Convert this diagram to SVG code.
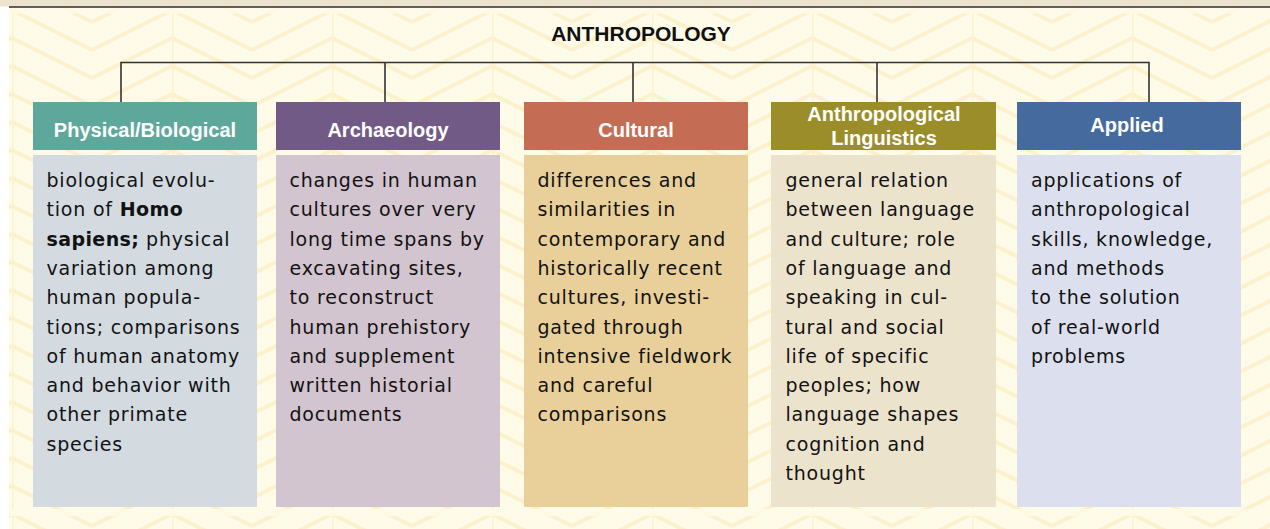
<svg xmlns="http://www.w3.org/2000/svg" width="1270" height="529" viewBox="0 0 1270 529">
  <defs>
    <!-- faint herringbone backdrop -->
    <pattern id="weave" x="12" y="10" width="160" height="28" patternUnits="userSpaceOnUse">
      <rect width="160" height="28" fill="#fffbe9"/>
      <g stroke="#fdf1cd" stroke-width="4" fill="none">
        <line x1="0" y1="-56" x2="80" y2="-16"/>
        <line x1="0" y1="-28" x2="80" y2="12"/>
        <line x1="0" y1="0" x2="80" y2="40"/>
        <line x1="0" y1="28" x2="80" y2="68"/>
        <line x1="80" y1="-16" x2="160" y2="-56"/>
        <line x1="80" y1="12" x2="160" y2="-28"/>
        <line x1="80" y1="40" x2="160" y2="0"/>
        <line x1="80" y1="68" x2="160" y2="28"/>
        <line x1="0" y1="-30" x2="0" y2="60" stroke-width="3"/>
      </g>
    </pattern>
    <style>
      .title { font-family: "Liberation Sans", Arial, sans-serif; font-weight: bold; font-size: 21px; fill: #111; text-anchor: middle; }
      .head { font-family: "Liberation Sans", Arial, sans-serif; font-weight: bold; font-size: 20px; fill: #ffffff; text-anchor: middle; }
      .body { font-family: "DejaVu Sans", Verdana, sans-serif; font-size: 19px; letter-spacing: 0.8px; fill: #121212; }
      .body .b { font-weight: bold; letter-spacing: 0.4px; }
      .wire { stroke: #333333; stroke-width: 1.6; fill: none; }
    </style>
  </defs>

  <!-- page -->
  <rect x="0" y="0" width="1270" height="529" fill="#ffffff"/>
  <rect x="9" y="7" width="1261" height="522" fill="url(#weave)"/>
  <rect x="9" y="8" width="1261" height="6" fill="#fffbe9" opacity="0.75"/>
  <rect x="9" y="509" width="1261" height="7" fill="#fffbe9" opacity="0.8"/>
  <rect x="0" y="0" width="1270" height="6.5" fill="#ece4cf"/>
  <line x1="9" y1="7" x2="1270" y2="7" stroke="#2b2b2b" stroke-width="1.6"/>

  <!-- title -->
  <g id="anthropology">
    <text class="title" x="641" y="41">ANTHROPOLOGY</text>
  </g>

  <!-- tree connectors -->
  <g id="connectors" class="wire">
    <polyline points="121,102 121,62.5 1149,62.5 1149,102"/>
    <line x1="385" y1="62.5" x2="385" y2="102"/>
    <line x1="633" y1="62.5" x2="633" y2="102"/>
    <line x1="877" y1="62.5" x2="877" y2="102"/>
  </g>

  <!-- branches -->
  <g id="physical">
    <rect x="33" y="102" width="224" height="48" fill="#5ea89b"/>
    <text class="head" x="145" y="137">Physical/Biological</text>
    <rect x="33" y="155" width="224" height="352" fill="#d3dbe1"/>
    <text class="body" x="46.5">
      <tspan x="46.5" y="187">biological evolu-</tspan>
      <tspan x="46.5" y="216.3">tion of <tspan class="b">Homo</tspan></tspan>
      <tspan x="46.5" y="245.6"><tspan class="b">sapiens;</tspan> physical</tspan>
      <tspan x="46.5" y="274.9">variation among</tspan>
      <tspan x="46.5" y="304.2">human popula-</tspan>
      <tspan x="46.5" y="333.5">tions; comparisons</tspan>
      <tspan x="46.5" y="362.8">of human anatomy</tspan>
      <tspan x="46.5" y="392.1">and behavior with</tspan>
      <tspan x="46.5" y="421.4">other primate</tspan>
      <tspan x="46.5" y="450.7">species</tspan>
    </text>
  </g>

  <g id="archaeology">
    <rect x="276" y="102" width="224" height="48" fill="#725a87"/>
    <text class="head" x="388" y="137">Archaeology</text>
    <rect x="276" y="155" width="224" height="352" fill="#d2c5cf"/>
    <text class="body">
      <tspan x="289.5" y="187">changes in human</tspan>
      <tspan x="289.5" y="216.3">cultures over very</tspan>
      <tspan x="289.5" y="245.6">long time spans by</tspan>
      <tspan x="289.5" y="274.9">excavating sites,</tspan>
      <tspan x="289.5" y="304.2">to reconstruct</tspan>
      <tspan x="289.5" y="333.5">human prehistory</tspan>
      <tspan x="289.5" y="362.8">and supplement</tspan>
      <tspan x="289.5" y="392.1">written historial</tspan>
      <tspan x="289.5" y="421.4">documents</tspan>
    </text>
  </g>

  <g id="cultural">
    <rect x="524" y="102" width="224" height="48" fill="#c56c55"/>
    <text class="head" x="636" y="137">Cultural</text>
    <rect x="524" y="155" width="224" height="352" fill="#e9cf99"/>
    <text class="body">
      <tspan x="537.5" y="187">differences and</tspan>
      <tspan x="537.5" y="216.3">similarities in</tspan>
      <tspan x="537.5" y="245.6">contemporary and</tspan>
      <tspan x="537.5" y="274.9">historically recent</tspan>
      <tspan x="537.5" y="304.2">cultures, investi-</tspan>
      <tspan x="537.5" y="333.5">gated through</tspan>
      <tspan x="537.5" y="362.8">intensive fieldwork</tspan>
      <tspan x="537.5" y="392.1">and careful</tspan>
      <tspan x="537.5" y="421.4">comparisons</tspan>
    </text>
  </g>

  <g id="linguistics">
    <rect x="771" y="102" width="225" height="48" fill="#9b8e2a"/>
    <text class="head" x="884" y="121">Anthropological</text>
    <text class="head" x="884" y="145">Linguistics</text>
    <rect x="771" y="155" width="225" height="352" fill="#ece3cd"/>
    <text class="body">
      <tspan x="785.5" y="187">general relation</tspan>
      <tspan x="785.5" y="216.3">between language</tspan>
      <tspan x="785.5" y="245.6">and culture; role</tspan>
      <tspan x="785.5" y="274.9">of language and</tspan>
      <tspan x="785.5" y="304.2">speaking in cul-</tspan>
      <tspan x="785.5" y="333.5">tural and social</tspan>
      <tspan x="785.5" y="362.8">life of specific</tspan>
      <tspan x="785.5" y="392.1">peoples; how</tspan>
      <tspan x="785.5" y="421.4">language shapes</tspan>
      <tspan x="785.5" y="450.7">cognition and</tspan>
      <tspan x="785.5" y="480">thought</tspan>
    </text>
  </g>

  <g id="applied">
    <rect x="1017" y="102" width="224" height="48" fill="#456b9e"/>
    <text class="head" x="1127" y="132">Applied</text>
    <rect x="1017" y="155" width="224" height="352" fill="#dce0ee"/>
    <text class="body">
      <tspan x="1031" y="187">applications of</tspan>
      <tspan x="1031" y="216.3">anthropological</tspan>
      <tspan x="1031" y="245.6">skills, knowledge,</tspan>
      <tspan x="1031" y="274.9">and methods</tspan>
      <tspan x="1031" y="304.2">to the solution</tspan>
      <tspan x="1031" y="333.5">of real-world</tspan>
      <tspan x="1031" y="362.8">problems</tspan>
    </text>
  </g>
</svg>
